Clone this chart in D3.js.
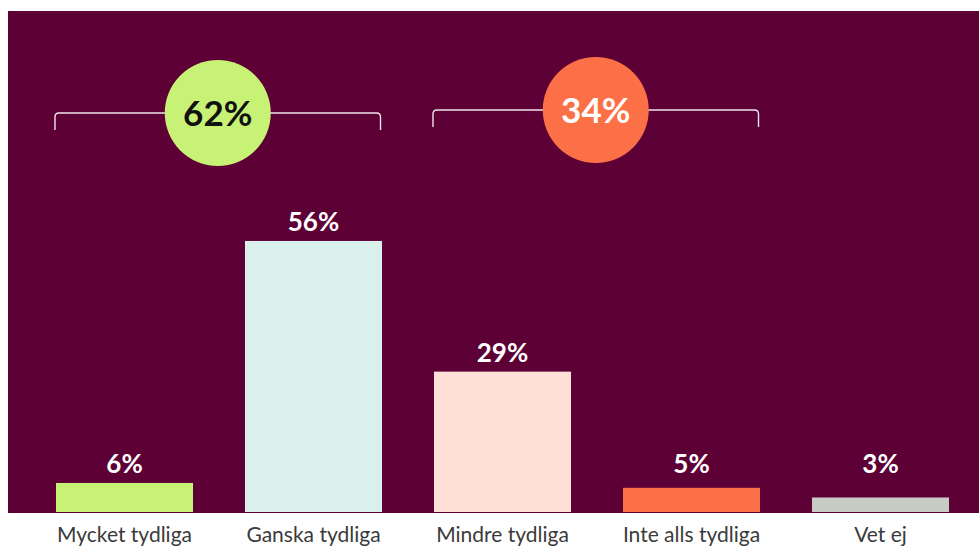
<!DOCTYPE html>
<html>
<head>
<meta charset="utf-8">
<script src="https://cdn.jsdelivr.net/npm/d3@7"></script>
<style>
  html, body { margin: 0; padding: 0; background: #fff; }
  svg { display: block; }
  .value { font-family: Lato, "Open Sans", sans-serif; font-weight: 700; fill: #fff; }
  .cat { font-family: Lato, "Open Sans", sans-serif; fill: #3a3a3a; }
</style>
</head>
<body>
<div id="chart"></div>
<script>
/* CONSTANTS AND GLOBALS */
const width = 979,
  height = 547,
  panel = { left: 8, top: 11, bottom: 513 };

/* DATA */
const categories = ["Mycket tydliga", "Ganska tydliga", "Mindre tydliga", "Inte alls tydliga", "Vet ej"];
const values = [6, 56, 29, 5, 3];
const barColors = ["#c8f276", "#daf0ed", "#ffe0d6", "#fb7046", "#c8cbc3"];

// summary brackets: which bars they cover, the total, bubble colours
const groupLabels = ["62%", "34%"];
const groupStart = [0, 2];
const groupEnd = [1, 3];
const groupFill = ["#c8f276", "#fb7046"];
const groupText = ["#111", "#fff"];
const groupY = [113, 110];

const svg = d3.select("#chart")
  .append("svg")
  .attr("width", width)
  .attr("height", height);

// background panel
svg.append("rect")
  .attr("x", panel.left)
  .attr("y", panel.top)
  .attr("width", width - panel.left)
  .attr("height", panel.bottom - panel.top)
  .attr("fill", "#5c0036");

/* SCALES */
const xScale = d3.scaleBand()
  .domain(categories)
  .range([30, 975])
  .paddingInner(0.275)
  .paddingOuter(0.1375);

const yScale = d3.scaleLinear()
  .domain([0, 100])
  .range([512, 28]);

// bars
svg.selectAll(".bar")
  .data(values)
  .join("rect")
  .attr("class", "bar")
  .attr("x", (d, i) => xScale(categories[i]))
  .attr("y", d => yScale(d))
  .attr("width", xScale.bandwidth())
  .attr("height", d => yScale(0) - yScale(d))
  .attr("fill", (d, i) => barColors[i]);

// value labels: small bars share one line
svg.selectAll(".value")
  .data(values)
  .join("text")
  .attr("class", "value")
  .attr("x", (d, i) => xScale(categories[i]) + xScale.bandwidth() / 2)
  .attr("y", d => Math.min(yScale(d), yScale(6)) - 10)
  .attr("text-anchor", "middle")
  .attr("font-size", 26)
  .text(d => d + "%");

// category axis (no line, no ticks)
const xAxis = d3.axisBottom(xScale).tickSize(0).tickPadding(0);
const gx = svg.append("g")
  .attr("transform", `translate(0,${panel.bottom})`)
  .call(xAxis);
gx.select(".domain").remove();
gx.selectAll("text")
  .attr("class", "cat")
  .attr("dy", null)
  .attr("y", 29)
  .attr("font-size", 21);

// brackets with bubbles
groupLabels.forEach((label, g) => {
  const x0 = xScale(categories[groupStart[g]]) - 1;
  const x1 = xScale(categories[groupEnd[g]]) + xScale.bandwidth() - 1.5;
  const y = groupY[g], r = 4, foot = 17;
  const path = d3.path();
  path.moveTo(x0, y + foot);
  path.lineTo(x0, y + r);
  path.quadraticCurveTo(x0, y, x0 + r, y);
  path.lineTo(x1 - r, y);
  path.quadraticCurveTo(x1, y, x1, y + r);
  path.lineTo(x1, y + foot);
  svg.append("path")
    .attr("d", path.toString())
    .attr("fill", "none")
    .attr("stroke", "#f2e4ec")
    .attr("stroke-width", 1.4);

  const cx = (x0 + x1) / 2;
  svg.append("circle")
    .attr("cx", cx)
    .attr("cy", y)
    .attr("r", 53)
    .attr("fill", groupFill[g]);

  svg.append("text")
    .attr("class", "value")
    .attr("x", cx)
    .attr("y", y + 12.5)
    .attr("text-anchor", "middle")
    .attr("font-size", 35)
    .style("fill", groupText[g])
    .text(label);
});
</script>
</body>
</html>
